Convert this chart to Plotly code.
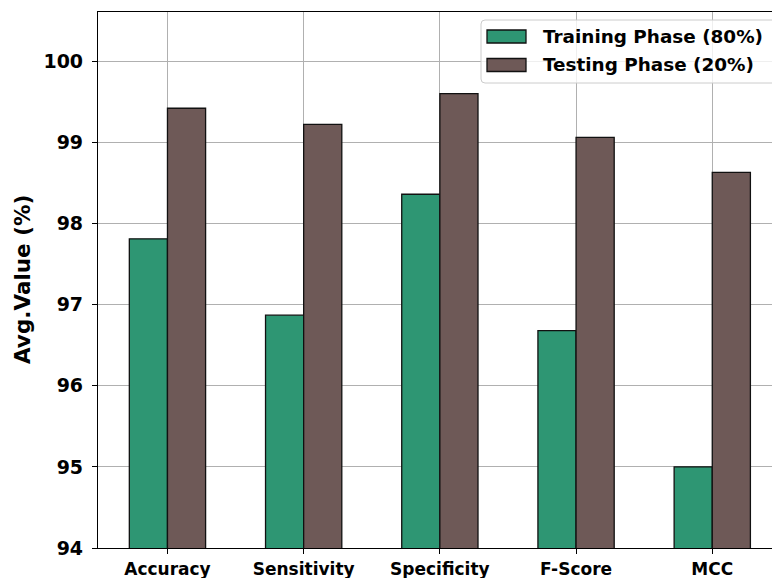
import plotly.graph_objects as go

# Metric categories and the two evaluation phases (values in %)
categories = ["Accuracy", "Sensitivity", "Specificity", "F-Score", "MCC"]
series_names = ["Training Phase (80%)", "Testing Phase (20%)"]
training_values = [97.81, 96.87, 98.36, 96.68, 95.00]
testing_values = [99.42, 99.22, 99.60, 99.06, 98.63]
y_ticks = [94, 95, 96, 97, 98, 99, 100]

GREEN = "#2E9673"
BROWN = "#6E5957"
FONT = "DejaVu Sans"

W, H = 772, 578
ML, MR, MT, MB = 98, 0, 12, 30
PW, PH = W - ML - MR, H - MT - MB

BAR_W = 0.28
x_pos = list(range(len(categories)))


def px_x(px):
    """Pixel x -> paper x."""
    return (px - ML) / PW


def px_y(py):
    """Pixel y (from top) -> paper y."""
    return 1 - (py - MT) / PH


fig = go.Figure()
fig.add_trace(go.Bar(
    x=x_pos, y=training_values, width=BAR_W, offset=-BAR_W, base=0,
    marker=dict(color=GREEN, line=dict(color="#111111", width=1.3)),
    name=series_names[0], showlegend=False,
))
fig.add_trace(go.Bar(
    x=x_pos, y=testing_values, width=BAR_W, offset=0, base=0,
    marker=dict(color=BROWN, line=dict(color="#111111", width=1.3)),
    name=series_names[1], showlegend=False,
))

# Legend box (semi-transparent, rounded) drawn at the upper right
lx0, lx1, ly0, ly1 = 481, 776, 20, 83
r = 4
rx, ry = r / PW, r / PH
x0, x1, y0, y1 = px_x(lx0), px_x(lx1), px_y(ly1), px_y(ly0)
path = (
    f"M {x0+rx},{y0} L {x1-rx},{y0} Q {x1},{y0} {x1},{y0+ry} "
    f"L {x1},{y1-ry} Q {x1},{y1} {x1-rx},{y1} L {x0+rx},{y1} "
    f"Q {x0},{y1} {x0},{y1-ry} L {x0},{y0+ry} Q {x0},{y0} {x0+rx},{y0} Z"
)
shapes = [dict(type="path", xref="paper", yref="paper", path=path,
               fillcolor="rgba(255,255,255,0.8)",
               line=dict(color="#cccccc", width=1), layer="above")]
annotations = []
for i, (name, col) in enumerate(zip(series_names, [GREEN, BROWN])):
    cy = 36.5 + i * 28.5
    shapes.append(dict(type="rect", xref="paper", yref="paper",
                       x0=px_x(487), x1=px_x(526),
                       y0=px_y(cy + 6.5), y1=px_y(cy - 6.5),
                       fillcolor=col, line=dict(color="#111111", width=1.3),
                       layer="above"))
    annotations.append(dict(text=f"<b>{name}</b>", xref="paper", yref="paper",
                            x=px_x(541), y=px_y(cy), xanchor="left",
                            yanchor="middle", showarrow=False,
                            font=dict(family=FONT, size=18.4, color="black")))

# Rotated y-axis title
annotations.append(dict(text="<b>Avg.Value (%)</b>", xref="paper", yref="paper",
                        x=px_x(22), y=0.5, xanchor="center", yanchor="middle",
                        textangle=-90, showarrow=False,
                        font=dict(family=FONT, size=21.5, color="black")))

fig.update_layout(
    width=W, height=H,
    margin=dict(l=ML, r=MR, t=MT, b=MB, pad=0),
    paper_bgcolor="white", plot_bgcolor="white",
    barmode="overlay",
    shapes=shapes, annotations=annotations,
    font=dict(family=FONT, color="black"),
)
fig.update_xaxes(
    range=[-0.51, -0.51 + PW / 136.2],
    tickmode="array", tickvals=x_pos,
    ticktext=[f"<b>{c}</b>" for c in categories],
    tickfont=dict(family=FONT, size=17, color="black"),
    showgrid=True, gridcolor="#b0b0b0", gridwidth=1,
    showline=True, linecolor="black", linewidth=1.2, mirror=True,
    ticks="outside", ticklen=5, tickwidth=1, tickcolor="black",
    zeroline=False,
)
fig.update_yaxes(
    range=[94, 100.606],
    tickmode="array", tickvals=y_ticks,
    ticktext=[f"<b>{v}</b>" for v in y_ticks],
    tickfont=dict(family=FONT, size=19, color="black"),
    showgrid=True, gridcolor="#b0b0b0", gridwidth=1,
    showline=True, linecolor="black", linewidth=1.2,
    ticks="outside", ticklen=5, tickwidth=1, tickcolor="black",
    ticklabelstandoff=5,
    zeroline=False,
)

fig.write_html("out.html")
